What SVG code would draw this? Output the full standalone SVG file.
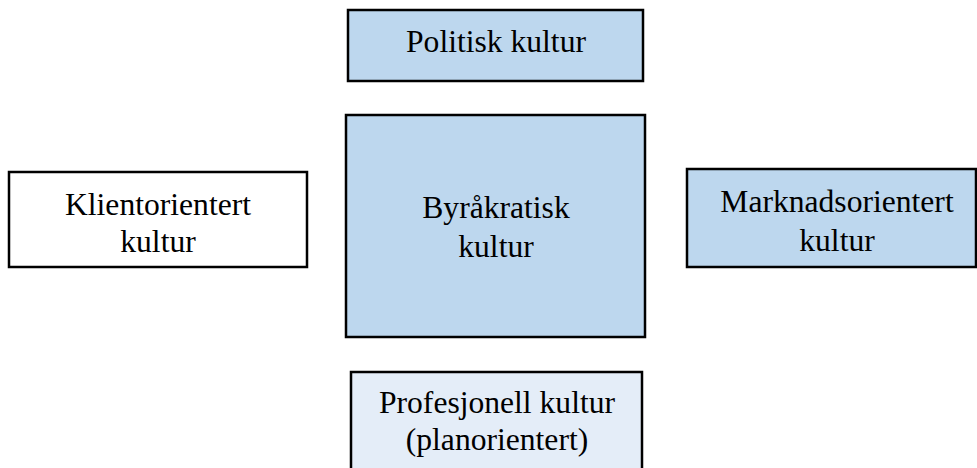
<svg xmlns="http://www.w3.org/2000/svg" width="977" height="468" viewBox="0 0 977 468">
<style>
.box{stroke:#000;stroke-width:2.5}
.blue{fill:#BDD7EE}
.white{fill:#FFFFFF}
.pale{fill:#E4EDF8}
text{font-family:"Liberation Serif","Times New Roman",serif;font-size:31.6px;fill:#000;text-anchor:middle}
</style>
<rect width="977" height="468" fill="#FFFFFF"/>
<g id="connectors"></g>
<g id="politisk">
<rect class="box blue" x="348" y="10" width="295" height="71"/>
<text x="496" y="52">Politisk kultur</text>
</g>
<g id="byrakratisk">
<rect class="box blue" x="346" y="115" width="299" height="222"/>
<text x="496" y="218">Byråkratisk</text>
<text x="496" y="257">kultur</text>
</g>
<g id="klientorientert">
<rect class="box white" x="9" y="172" width="298" height="95"/>
<text x="158" y="215">Klientorientert</text>
<text x="158" y="252">kultur</text>
</g>
<g id="marknadsorientert">
<rect class="box blue" x="687" y="169" width="289" height="98"/>
<text x="837" y="212">Marknadsorientert</text>
<text x="837" y="251">kultur</text>
</g>
<g id="profesjonell">
<rect class="box pale" x="351" y="372" width="291" height="110"/>
<text x="497" y="413">Profesjonell kultur</text>
<text x="497" y="450">(planorientert)</text>
</g>
</svg>
